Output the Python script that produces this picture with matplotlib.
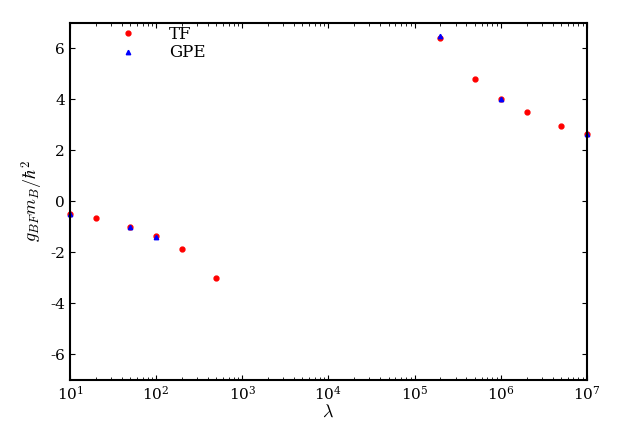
import matplotlib
matplotlib.use('Agg')
import matplotlib.pyplot as plt

plt.rcParams['mathtext.fontset'] = 'cm'
plt.rcParams['font.family'] = 'serif'
plt.rcParams['font.serif'] = ['DejaVu Serif']
plt.rcParams['axes.unicode_minus'] = False

# data
tf_lambda = [10, 20, 50, 100, 200, 500, 2e5, 5e5, 1e6, 2e6, 5e6, 1e7]
tf_g = [-0.5, -0.65, -1.0, -1.35, -1.85, -3.0, 6.4, 4.8, 4.0, 3.5, 2.95, 2.65]
gpe_lambda = [10, 50, 100, 2e5, 1e6, 1e7]
gpe_g = [-0.5, -1.0, -1.38, 6.47, 4.02, 2.65]

fig = plt.figure(figsize=(6.19, 4.24), dpi=100)
ax = fig.add_axes([0.113, 0.104, 0.835, 0.842])

ax.plot(tf_lambda, tf_g, 'o', color='#ff0000', markersize=3.5, label='TF', clip_on=False)
ax.plot(gpe_lambda, gpe_g, '^', color='#0000ff', markersize=3.2, label='GPE', clip_on=False)

ax.set_xscale('log')
ax.set_xlim(10, 1e7)
ax.set_ylim(-7, 7)
ax.set_yticks([-6, -4, -2, 0, 2, 4, 6])
ax.set_xlabel(r'$\lambda$', fontsize=13, labelpad=0)
ax.set_ylabel(r'$g_{BF}m_B/\hbar^2$', fontsize=13, labelpad=4)
ax.tick_params(direction='in', which='both', top=True, right=True, labelsize=11)
for s in ax.spines.values():
    s.set_linewidth(1.5)

ax.legend(loc='upper left', frameon=False, fontsize=12, handletextpad=1.5,
          borderaxespad=0.2, labelspacing=0.1, bbox_to_anchor=(0.06, 1.02))

fig.savefig('out.png', dpi=100)
